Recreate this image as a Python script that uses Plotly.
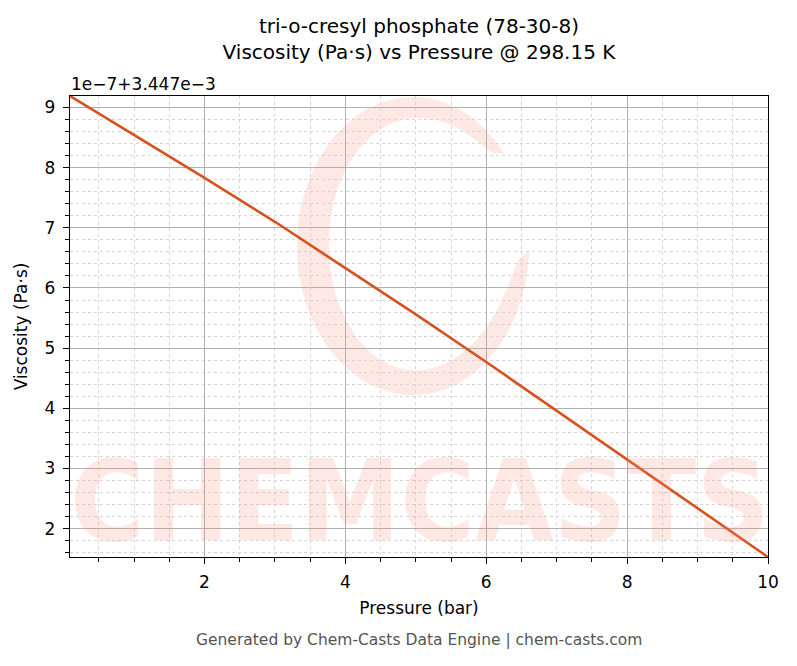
import numpy as np
import plotly.graph_objects as go

# ---- data ----
pressure_bar = [0.09, 1.0, 2.0, 3.0, 4.0, 5.0, 6.0, 7.0, 8.0, 9.0, 10.0]
viscosity_pa_s = [3.4479190e-3, 3.4478540e-3, 3.4477830e-3, 3.4477100e-3,
                  3.4476330e-3, 3.4475560e-3, 3.4474770e-3, 3.4473960e-3,
                  3.4473150e-3, 3.4472330e-3, 3.4471530e-3]
offset_value = 3.447e-3
scale_value = 1e-7
x_tick_vals = [2, 4, 6, 8, 10]
y_tick_vals = [2, 3, 4, 5, 6, 7, 8, 9]

title_lines = ["tri-o-cresyl phosphate (78-30-8)", "Viscosity (Pa·s) vs Pressure @ 298.15 K"]
x_label = "Pressure (bar)"
y_label = "Viscosity (Pa·s)"
offset_label = "1e\u22127+3.447e\u22123"
footer = "Generated by Chem-Casts Data Engine | chem-casts.com"
watermark = "CHEMCASTS"

y_plot = [(v - offset_value) / scale_value for v in viscosity_pa_s]

# page body margin compensation
OFF = 8
PAGE_W, PAGE_H = 797, 666
W, H = PAGE_W - OFF, PAGE_H - OFF
# plot area in page pixels
pL, pR, pT, pB = 70, 768, 96, 557
L, R, T, B = pL - OFF, pR - OFF, pT - OFF, pB - OFF

fig = go.Figure()
fig.add_trace(go.Scatter(x=pressure_bar, y=y_plot, mode="lines",
                         line=dict(color="#D9501C", width=2.6),
                         hoverinfo="skip", showlegend=False))

# ---- watermark ring (decoration), page pixel coords ----
def px2paper(px, py):
    return (px - pL) / (pR - pL), (pB - py) / (pB - pT)

cx, cy = 413, 246
rx_o, ry_o = 116, 149
a0, a1 = np.deg2rad(38), np.deg2rad(358)
ts = np.linspace(0, 1, 90)
angs = a0 + (a1 - a0) * ts
thick = 32 * np.clip(np.sin(np.pi * ts) ** 0.35, 0, 1)
outer = [(cx + rx_o * np.cos(a), cy - ry_o * np.sin(a)) for a in angs]
inner = [(cx + (rx_o - th) * np.cos(a), cy - (ry_o - th * 0.85) * np.sin(a)) for a, th in zip(angs, thick)]
pts = outer + inner[::-1]
path = ""
for i, (px, py) in enumerate(pts):
    xp, yp = px2paper(px, py)
    path += ("M" if i == 0 else "L") + f"{xp:.4f},{yp:.4f} "
path += "Z"
fig.add_shape(type="path", path=path, xref="paper", yref="paper",
              fillcolor="rgba(248,140,120,0.2)", line=dict(width=0), layer="below")

fig.add_annotation(text=watermark, xref="paper", yref="paper",
                   x=0.5, y=(pB - 569) / (pB - pT), xanchor="center", yanchor="bottom", showarrow=False,
                   font=dict(family="DejaVu Sans Condensed, DejaVu Sans", size=113, weight="bold",
                             color="rgba(248,140,120,0.2)"))

fig.add_annotation(text=offset_label, xref="paper", yref="paper", x=-0.002, y=1.0,
                   xanchor="left", yanchor="bottom", yshift=0, showarrow=False,
                   font=dict(family="DejaVu Sans", size=17, color="#000"))
fig.add_annotation(text=footer, xref="paper", yref="paper", x=0.5,
                   y=(pB - 640) / (pB - pT), xanchor="center", yanchor="middle", showarrow=False,
                   font=dict(family="DejaVu Sans", size=15.5, color="#555"))

axis_common = dict(showline=True, linecolor="black", linewidth=1.3, mirror=True,
                   ticks="outside", ticklen=6, tickwidth=1.2, tickcolor="black",
                   showgrid=True, gridcolor="#b0b0b0", gridwidth=0.8, zeroline=False,
                   automargin=False,
                   tickfont=dict(family="DejaVu Sans", size=17, color="#000"))

fig.update_layout(
    width=W, height=H,
    margin=dict(l=L, r=W - R, t=T, b=H - B, autoexpand=False),
    paper_bgcolor="white", plot_bgcolor="white",
    title=dict(text="<br>".join(title_lines), x=((pL + pR) / 2 - OFF) / W, xanchor="center",
               y=1 - (39 - OFF - 6.5) / H, yanchor="middle",
               font=dict(family="DejaVu Sans", size=20, color="#000")),
    xaxis=dict(range=[min(pressure_bar), max(pressure_bar)], tickvals=x_tick_vals,
               ticklabelstandoff=3,
               title=dict(text=x_label, font=dict(family="DejaVu Sans", size=17, color="#000"), standoff=11),
               minor=dict(dtick=0.5, tick0=0, ticks="outside", ticklen=3.5, tickcolor="black",
                          showgrid=True, gridcolor="#d6d6d6", gridwidth=0.5, griddash="dot"),
               **axis_common),
    yaxis=dict(range=[min(y_plot), max(y_plot)], tickvals=y_tick_vals,
               ticklabelstandoff=4,
               title=dict(text=y_label, font=dict(family="DejaVu Sans", size=17, color="#000"), standoff=12),
               minor=dict(dtick=0.2, tick0=0, ticks="outside", ticklen=3.5, tickcolor="black",
                          showgrid=True, gridcolor="#d6d6d6", gridwidth=0.5, griddash="dot"),
               **axis_common),
)

fig.write_html("out.html")
